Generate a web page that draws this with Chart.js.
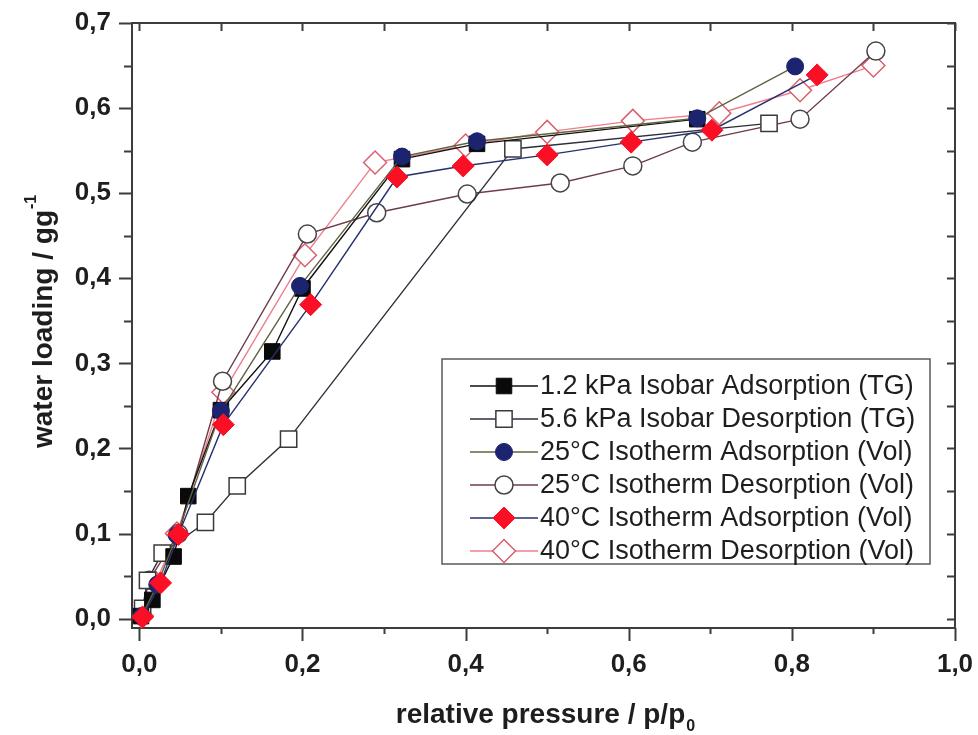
<!DOCTYPE html>
<html>
<head>
<meta charset="utf-8">
<title>Water loading isobars and isotherms</title>
<script src="https://cdn.jsdelivr.net/npm/chart.js@4.4.1/dist/chart.umd.min.js"></script>
<style>
  html, body { margin: 0; padding: 0; background: #ffffff; }
  #isoChart { display: block; }
</style>
</head>
<body>
<canvas id="isoChart" width="978" height="735"></canvas>
<script>
// axis settings
const xTickStep = 0.2;
const yTickStep = 0.1;

// series labels
const seriesLabels = [
    '1.2 kPa Isobar Adsorption (TG)',
    '5.6 kPa Isobar Desorption (TG)',
    '25°C Isotherm Adsorption (Vol)',
    '25°C Isotherm Desorption (Vol)',
    '40°C Isotherm Adsorption (Vol)',
    '40°C Isotherm Desorption (Vol)'
];

// [relative pressure, water loading]
const isobarAds12 = [[0.002, 0.003], [0.016, 0.022], [0.042, 0.073], [0.060, 0.144], [0.100, 0.245],
    [0.163, 0.314], [0.200, 0.388], [0.322, 0.540], [0.414, 0.558], [0.684, 0.587]];
const isobarDes56 = [[0.772, 0.582], [0.458, 0.552], [0.183, 0.211], [0.120, 0.156], [0.081, 0.113],
    [0.028, 0.077], [0.010, 0.045], [0.004, 0.012]];
const isoAds25 = [[0.003, 0.003], [0.022, 0.040], [0.046, 0.098], [0.100, 0.244], [0.197, 0.391],
    [0.322, 0.543], [0.414, 0.561], [0.684, 0.588], [0.804, 0.649]];
const isoDes25 = [[0.903, 0.667], [0.810, 0.587], [0.678, 0.560], [0.605, 0.532], [0.516, 0.512],
    [0.402, 0.499], [0.291, 0.477], [0.206, 0.452], [0.102, 0.279], [0.048, 0.100], [0.012, 0.045], [0.002, 0.004]];
const isoAds40 = [[0.004, 0.002], [0.026, 0.042], [0.048, 0.099], [0.103, 0.228], [0.210, 0.369],
    [0.316, 0.519], [0.397, 0.532], [0.500, 0.545], [0.603, 0.560], [0.702, 0.574], [0.831, 0.639]];
const isoDes40 = [[0.900, 0.650], [0.810, 0.621], [0.711, 0.594], [0.605, 0.585], [0.500, 0.572],
    [0.400, 0.556], [0.289, 0.536], [0.203, 0.427], [0.103, 0.266], [0.046, 0.100], [0.020, 0.042], [0.003, 0.003]];

function toPoints(pairs) {
    return pairs.map(p => ({ x: p[0], y: p[1] }));
}

// Builds a scatter-with-line dataset in the Origin look
function makeSeries(label, pairs, style) {
    return {
        label: label,
        data: toPoints(pairs),
        showLine: true,
        tension: 0,
        borderColor: style.line,
        borderWidth: 1.4,
        pointStyle: style.shape,
        pointRadius: style.radius,
        pointHoverRadius: style.radius,
        pointBackgroundColor: style.fill,
        pointBorderColor: style.edge,
        pointBorderWidth: style.edgeWidth,
        order: style.order
    };
}

const datasets = [
    makeSeries(seriesLabels[0], isobarAds12, { line: '#111111', shape: 'rect', radius: 11, fill: '#0a0a0a', edge: '#0a0a0a', edgeWidth: 1, order: 3 }),
    makeSeries(seriesLabels[1], isobarDes56, { line: '#2e2e3c', shape: 'rect', radius: 11.5, fill: '#ffffff', edge: '#3a3a3a', edgeWidth: 1.5, order: 4 }),
    makeSeries(seriesLabels[2], isoAds25, { line: '#5f6240', shape: 'circle', radius: 8.5, fill: '#1c2470', edge: '#1c2470', edgeWidth: 1, order: 2 }),
    makeSeries(seriesLabels[3], isoDes25, { line: '#6e3c4a', shape: 'circle', radius: 9, fill: '#ffffff', edge: '#454545', edgeWidth: 1.5, order: 5 }),
    makeSeries(seriesLabels[4], isoAds40, { line: '#27306e', shape: 'rectRot', radius: 11, fill: '#fb0f25', edge: '#fb0f25', edgeWidth: 1, order: 1 }),
    makeSeries(seriesLabels[5], isoDes40, { line: '#ee7f8e', shape: 'rectRot', radius: 11.5, fill: '#ffffff', edge: '#d9606f', edgeWidth: 1.5, order: 6 })
];

const axisColor = '#3c3c3c';

// Frame and tick marks (major + minor, mirrored inward on top/right)
const framePlugin = {
    id: 'originFrame',
    beforeDatasetsDraw(chart) {
        const ctx = chart.ctx;
        const a = chart.chartArea;
        const xs = chart.scales.x;
        const ys = chart.scales.y;
        ctx.save();
        ctx.strokeStyle = axisColor;
        ctx.lineWidth = 2;
        ctx.strokeRect(a.left, a.top, a.right - a.left, a.bottom - a.top);
        ctx.beginPath();
        for (let i = 0; i <= 10; i++) {
            const px = Math.round(xs.getPixelForValue(i / 10)) + 0.5;
            const major = i % 2 === 0;
            ctx.moveTo(px, a.bottom);
            ctx.lineTo(px, a.bottom + (major ? 13 : 6));
            ctx.moveTo(px, a.top);
            ctx.lineTo(px, a.top + 8);
        }
        for (let i = 0; i <= 14; i++) {
            const py = Math.round(ys.getPixelForValue(i * 0.05)) + 0.5;
            const major = i % 2 === 0;
            ctx.moveTo(a.left, py);
            ctx.lineTo(a.left - (major ? 13 : 8), py);
            ctx.moveTo(a.right, py);
            ctx.lineTo(a.right - 8, py);
        }
        ctx.stroke();
        ctx.restore();
    },
    afterDatasetsDraw(chart) {
        // boxed legend, lower right
        const ctx = chart.ctx;
        const box = { left: 442, top: 359, right: 930, bottom: 564 };
        const rowGap = 33;
        ctx.save();
        ctx.fillStyle = '#ffffff';
        ctx.fillRect(box.left, box.top, box.right - box.left, box.bottom - box.top);
        ctx.strokeStyle = '#5a5a5a';
        ctx.lineWidth = 1.5;
        ctx.strokeRect(box.left, box.top, box.right - box.left, box.bottom - box.top);
        chart.data.datasets.forEach((ds, i) => {
            const cy = 386 + i * rowGap;
            ctx.strokeStyle = ds.borderColor;
            ctx.lineWidth = 1.5;
            ctx.beginPath();
            ctx.moveTo(470, cy);
            ctx.lineTo(538, cy);
            ctx.stroke();
            ctx.fillStyle = ds.pointBackgroundColor;
            ctx.strokeStyle = ds.pointBorderColor;
            ctx.lineWidth = ds.pointBorderWidth;
            Chart.helpers.drawPoint(ctx, {
                pointStyle: ds.pointStyle, radius: ds.pointRadius, rotation: 0, borderWidth: ds.pointBorderWidth
            }, 504, cy);
            ctx.fillStyle = '#1e1e1e';
            ctx.font = '27px "Liberation Sans", Arial, sans-serif';
            ctx.textAlign = 'left';
            ctx.textBaseline = 'middle';
            ctx.fillText(ds.label, 540, cy + 1);
        });
        ctx.restore();
    },
    afterDraw(chart) {
        // axis titles with sub/superscripts
        const ctx = chart.ctx;
        ctx.save();
        ctx.fillStyle = '#1e1e1e';
        ctx.textBaseline = 'alphabetic';
        const mainFont = 'bold 28px "Liberation Sans", Arial, sans-serif';
        const smallFont = 'bold 16px "Liberation Sans", Arial, sans-serif';

        ctx.font = mainFont;
        const xMain = 'relative pressure / p/p';
        const xw = ctx.measureText(xMain).width;
        const xStart = 545 - (xw + 9) / 2;
        ctx.fillText(xMain, xStart, 723);
        ctx.font = smallFont;
        ctx.fillText('0', xStart + xw + 1, 731);

        ctx.translate(52, 322);
        ctx.rotate(-Math.PI / 2);
        ctx.font = mainFont;
        const yMain = 'water loading / gg';
        const yw = ctx.measureText(yMain).width;
        const yStart = -(yw + 14) / 2;
        ctx.fillText(yMain, yStart, 0);
        ctx.font = smallFont;
        ctx.fillText('-1', yStart + yw + 1, -16);
        ctx.restore();
    }
};

function commaLabel(value) {
    return value.toFixed(1).replace('.', ',');
}

const isoChart = new Chart(document.getElementById('isoChart'), {
    type: 'scatter',
    data: { datasets: datasets },
    options: {
        responsive: false,
        animation: false,
        devicePixelRatio: 1,
        layout: { padding: { left: 0, right: 23, top: 23, bottom: 0 } },
        plugins: {
            legend: { display: false },
            tooltip: { enabled: false }
        },
        scales: {
            x: {
                type: 'linear',
                min: -0.009,
                max: 1.0,
                afterFit: (scale) => {
                    scale.height = 107;
                    scale.paddingLeft = 0;
                    scale.paddingRight = 0;
                },
                grid: { display: false, drawTicks: false },
                border: { display: false },
                ticks: {
                    stepSize: xTickStep,
                    includeBounds: false,
                    padding: 21,
                    maxRotation: 0,
                    color: '#1e1e1e',
                    font: { family: '"Liberation Sans", Arial, sans-serif', size: 26, weight: 'bold' },
                    callback: commaLabel
                }
            },
            y: {
                type: 'linear',
                min: -0.011,
                max: 0.7,
                afterFit: (scale) => {
                    scale.width = 132;
                    scale.paddingTop = 0;
                    scale.paddingBottom = 0;
                },
                grid: { display: false, drawTicks: false },
                border: { display: false },
                ticks: {
                    stepSize: yTickStep,
                    includeBounds: false,
                    padding: 21,
                    color: '#1e1e1e',
                    font: { family: '"Liberation Sans", Arial, sans-serif', size: 26, weight: 'bold' },
                    callback: commaLabel
                }
            }
        }
    },
    plugins: [framePlugin]
});
</script>
</body>
</html>
